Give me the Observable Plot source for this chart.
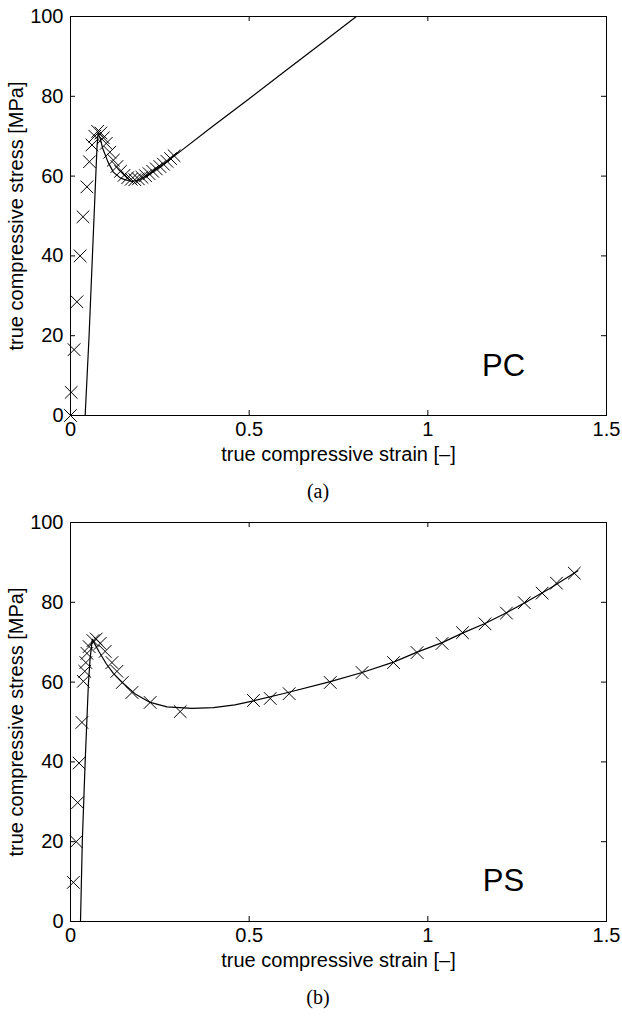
<!DOCTYPE html>
<html><head><meta charset="utf-8">
<script src="https://cdn.jsdelivr.net/npm/d3@7"></script>
<script src="https://cdn.jsdelivr.net/npm/@observablehq/plot@0.6"></script>
<style>
body{margin:0;background:#fff;width:622px;}
.panel{position:relative;width:622px;height:506px;}
#b{height:515px;}
.cap{position:absolute;left:0;width:636px;text-align:center;top:480px;line-height:22px;font-family:"Liberation Serif","Times New Roman",serif;font-size:20px;color:#000;}
</style></head><body>
<div id="a" class="panel"></div>
<div id="b" class="panel"></div>
<script>
const xTicks = [0, 0.5, 1, 1.5];
const yTicks = [0, 20, 40, 60, 80, 100];
const xLabel = "true compressive strain [–]";
const yLabel = "true compressive stress [MPa]";

// (a) PC
const pcModelStrain = [0.041, 0.052, 0.066, 0.074, 0.077, 0.083, 0.090, 0.105, 0.120, 0.140, 0.160, 0.175, 0.190, 0.200, 0.250, 0.300, 0.400, 0.500, 0.600, 0.700, 0.800];
const pcModelStress = [0, 20, 50, 67, 70.7, 69.5, 67, 63.5, 61, 59.5, 58.9, 58.7, 59.0, 59.4, 62.3, 65.7, 72.6, 79.4, 86.3, 93.1, 100];
const pcExpStrain = [0, 0.002, 0.010, 0.018, 0.027, 0.035, 0.046, 0.053, 0.060, 0.068, 0.076, 0.085, 0.092, 0.100, 0.110, 0.120, 0.130, 0.140, 0.150, 0.160, 0.170, 0.180, 0.190, 0.200, 0.210, 0.220, 0.230, 0.240, 0.250, 0.260, 0.270, 0.280, 0.290];
const pcExpStress = [0, 5.8, 16.5, 28.5, 40, 49.8, 57.3, 63.6, 67.8, 70, 71.2, 70.8, 69.6, 68.2, 66, 64, 62.4, 61.2, 60.2, 59.6, 59.2, 59.1, 59.3, 59.7, 60.1, 60.6, 61.2, 61.8, 62.4, 63, 63.7, 64.4, 65.1];

// (b) PS
const psModelStrain = [0.028, 0.033, 0.041, 0.050, 0.055, 0.061, 0.070, 0.080, 0.100, 0.120, 0.145, 0.180, 0.223, 0.270, 0.340, 0.400, 0.460, 0.512, 0.600, 0.727, 0.816, 0.904, 0.970, 1.040, 1.100, 1.160, 1.220, 1.280, 1.340, 1.420];
const psModelStress = [0, 20, 40, 59.4, 66, 70.7, 69.2, 67.6, 64.6, 62.2, 59.9, 57.1, 54.9, 53.8, 53.4, 53.6, 54.3, 55.3, 57.2, 60.1, 62.4, 65, 67.5, 69.9, 72.4, 74.7, 77.4, 80.3, 83.4, 87.9];
const psExpStrain = [0.008, 0.016, 0.020, 0.024, 0.032, 0.036, 0.040, 0.043, 0.046, 0.052, 0.063, 0.072, 0.083, 0.097, 0.116, 0.130, 0.145, 0.172, 0.223, 0.307, 0.512, 0.559, 0.612, 0.727, 0.816, 0.904, 0.970, 1.040, 1.097, 1.160, 1.220, 1.270, 1.320, 1.360, 1.410];
const psExpStress = [9.8, 20, 29.8, 39.7, 49.9, 60.2, 62.7, 64.9, 67.2, 68.9, 70.4, 70.8, 69.7, 67.7, 64.9, 62.7, 59.9, 57.4, 54.9, 52.6, 55.4, 55.9, 57.1, 59.9, 62.4, 64.9, 67.4, 69.7, 72.4, 74.6, 77.3, 79.9, 82.3, 84.8, 87.3];

function panel(id, name, mx, my, ex, ey, caption, nameDy) {
  const W = 622, H = 468, mL = 70, mR = 16, mT = 16, mB = 53;
  const fw = W - mL - mR, fh = H - mT - mB, t = 5;
  const model = mx.map((x, i) => ({x, y: my[i]}));
  const exp = ex.map((x, i) => ({x, y: ey[i]}));
  const chart = Plot.plot({
    width: W, height: H, marginLeft: mL, marginRight: mR, marginTop: mT, marginBottom: mB,
    style: {fontFamily: "'Liberation Sans', Arial, Helvetica, sans-serif", fontSize: "20px", color: "#000", background: "#fff", overflow: "visible"},
    x: {domain: [0, 1.5]},
    y: {domain: [0, 100]},
    marks: [
      Plot.axisX(xTicks, {anchor: "bottom", tickSize: 0, tickPadding: 6, tickFormat: d => String(d), label: xLabel, labelAnchor: "center", labelArrow: "none", labelOffset: 45}),
      Plot.axisY(yTicks, {anchor: "left", tickSize: 0, tickPadding: 7, tickFormat: d => String(d), label: yLabel, labelAnchor: "center", labelArrow: "none", labelOffset: 62}),
      Plot.tickX(xTicks, {x: d => d, insetTop: fh - t, stroke: "#000"}),
      Plot.tickX(xTicks, {x: d => d, insetBottom: fh - t, stroke: "#000"}),
      Plot.tickY(yTicks, {y: d => d, insetRight: fw - t, stroke: "#000"}),
      Plot.tickY(yTicks, {y: d => d, insetLeft: fw - t, stroke: "#000"}),
      Plot.line(model, {x: "x", y: "y", stroke: "#000", strokeWidth: 1.2, clip: true}),
      Plot.dot(exp, {x: "x", y: "y", symbol: "times", r: 5.8, stroke: "#000", strokeWidth: 1}),
      Plot.frame({stroke: "#000", strokeWidth: 1}),
      Plot.text([name], {frameAnchor: "bottom-right", dx: -103, dy: nameDy, fontSize: 31, textAnchor: "middle", lineAnchor: "middle", fill: "#000"})
    ]
  });
  const el = document.getElementById(id);
  el.appendChild(chart);
  const c = document.createElement("div");
  c.className = "cap";
  c.textContent = caption;
  el.appendChild(c);
}
panel("a", "PC", pcModelStrain, pcModelStress, pcExpStrain, pcExpStress, "(a)", -49);
panel("b", "PS", psModelStrain, psModelStress, psExpStrain, psExpStress, "(b)", -40);
</script>
</body></html>
